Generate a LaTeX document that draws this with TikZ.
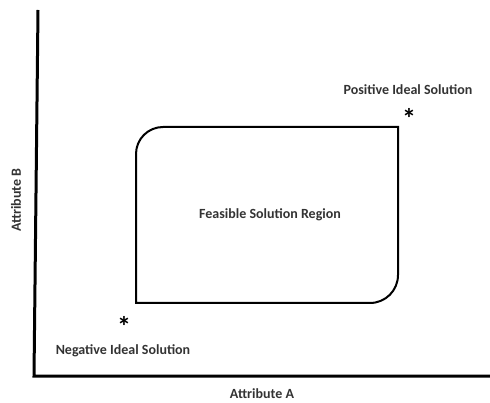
\documentclass[tikz,border=0pt]{standalone}
\usepackage{fontspec}
\setmainfont{Carlito}
\begin{document}
\begin{tikzpicture}[x=1pt,y=-1pt,
  axisline/.style={line width=3pt,line join=miter},
  regionline/.style={line width=2pt},
  lbl/.style={font=\bfseries\fontsize{14}{16}\selectfont,text=black!80,inner sep=0pt},
  star/.style={font=\bfseries\fontsize{28}{28}\selectfont,inner sep=0pt}]
\useasboundingbox (0,0) rectangle (490,403);
\coordinate (ytop) at (38,10);
\coordinate (origin) at (34,376);
\coordinate (xend) at (490,376);
\draw[axisline] (ytop) -- (origin) -- (xend);
\draw[regionline] (136,303) -- (136,154) .. controls (136,139.1) and (148.1,127) .. (163,127)
  -- (398,127) -- (398,275) .. controls (398,290.5) and (385.5,303) .. (370,303) -- cycle;
\node[lbl] (feas) at (270,215) {Feasible Solution Region};
\node[lbl] (pos) at (408,90) {Positive Ideal Solution};
\node[star] (posstar) at (409,118) {*};
\node[lbl] (neg) at (123,351) {Negative Ideal Solution};
\node[star] (negstar) at (124,326) {*};
\node[lbl] (xlab) at (262,394) {Attribute A};
\node[lbl,rotate=90] (ylab) at (16,200) {Attribute B};
\end{tikzpicture}
\end{document}
